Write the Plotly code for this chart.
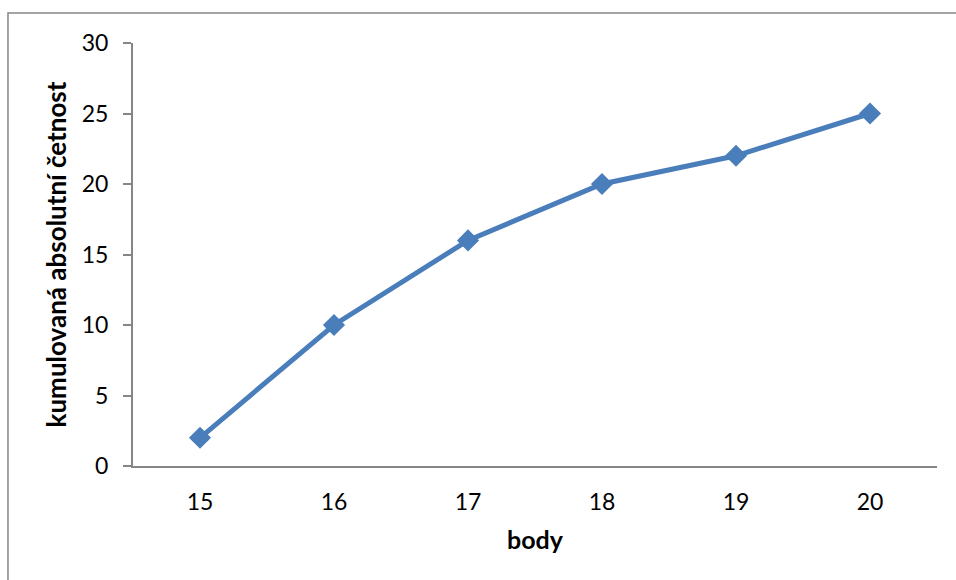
import plotly.graph_objects as go

# Cumulative absolute frequency by points
body = [15, 16, 17, 18, 19, 20]
kumulovana_cetnost = [2, 10, 16, 20, 22, 25]
y_ticks = [0, 5, 10, 15, 20, 25, 30]

LINE_BLUE = "#4a7ebb"
AXIS_GREY = "#868686"
FONT = "Lato, 'Open Sans', sans-serif"

fig = go.Figure()
fig.add_trace(go.Scatter(
    x=body,
    y=kumulovana_cetnost,
    mode="lines+markers",
    line=dict(color=LINE_BLUE, width=5),
    marker=dict(symbol="diamond", size=17, color=LINE_BLUE),
    showlegend=False,
))

fig.update_layout(
    width=956,
    height=580,
    margin=dict(l=133, r=19, t=43, b=114),
    paper_bgcolor="white",
    plot_bgcolor="white",
    font=dict(family=FONT, size=23, color="black"),
    xaxis=dict(
        range=[14.5, 20.5],
        tickvals=body,
        ticktext=[str(b) for b in body],
        showgrid=False,
        zeroline=False,
        showline=True,
        linecolor=AXIS_GREY,
        linewidth=2,
        ticks="",
        ticklabelstandoff=14,
        title=dict(text="<b>body</b>", font=dict(size=25), standoff=18),
    ),
    yaxis=dict(
        range=[0, 30],
        tickvals=y_ticks,
        showgrid=False,
        zeroline=False,
        showline=True,
        linecolor=AXIS_GREY,
        linewidth=2,
        ticks="outside",
        ticklen=8,
        tickcolor=AXIS_GREY,
        tickwidth=2,
        ticklabelstandoff=10,
        title=dict(text="<b>kumulovaná absolutní četnost</b>", font=dict(size=26), standoff=8),
    ),
    shapes=[dict(
        type="rect",
        xref="paper", yref="paper",
        x0=-0.1555, x1=1.2, y0=-0.6, y1=1.0709,
        line=dict(color=AXIS_GREY, width=1.5),
        fillcolor="rgba(0,0,0,0)",
        layer="below",
    )],
)

fig.write_html("out.html")
